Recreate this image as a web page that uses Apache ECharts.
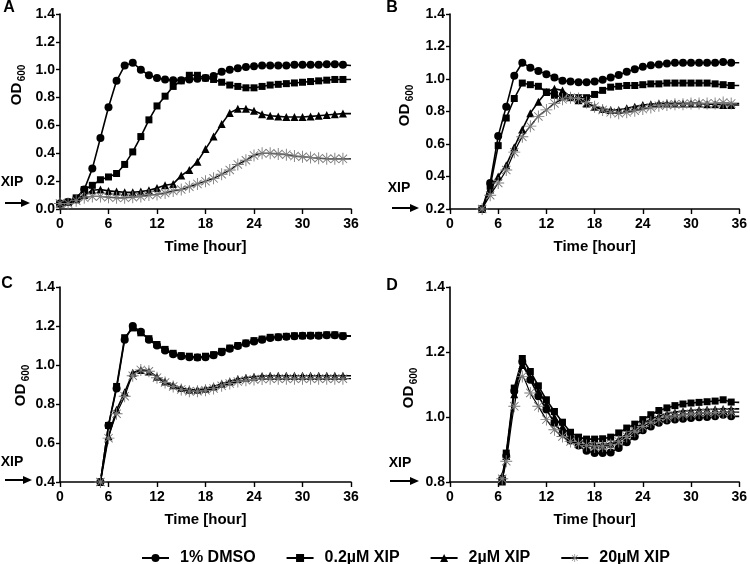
<!DOCTYPE html>
<html><head><meta charset="utf-8">
<script src="https://cdn.jsdelivr.net/npm/echarts/dist/echarts.min.js"></script>
<style>html,body{margin:0;padding:0;background:#fff}#c{width:750px;height:564px}</style>
</head><body><div id="c"></div>
<script>
// ---------- data ----------
const seriesNames = ['1% DMSO', '0.2µM XIP', '2µM XIP', '20µM XIP'];
const panelLetters = ['A', 'B', 'C', 'D'];
const xTicks = [0, 6, 12, 18, 24, 30, 36];
const yMins = [0.0, 0.2, 0.4, 0.8];
const yMax = 1.4;

const timeA = [0,1,2,3,4,5,6,7,8,9,10,11,12,13,14,15,16,17,18,19,20,21,22,23,24,25,26,27,28,29,30,31,32,33,34,35,36];
const A_DMSO = [0.04,0.05,0.07,0.14,0.29,0.51,0.73,0.92,1.03,1.05,1.0,0.96,0.94,0.93,0.925,0.925,0.93,0.935,0.94,0.955,0.985,1.0,1.01,1.02,1.025,1.03,1.03,1.03,1.03,1.035,1.035,1.035,1.035,1.04,1.04,1.035,1.03];
const A_02   = [0.04,0.05,0.08,0.14,0.17,0.21,0.23,0.255,0.32,0.41,0.52,0.64,0.74,0.81,0.88,0.92,0.96,0.96,0.94,0.93,0.91,0.89,0.88,0.87,0.87,0.88,0.89,0.895,0.9,0.905,0.91,0.915,0.92,0.925,0.93,0.93,0.93];
const A_2    = [0.04,0.05,0.07,0.10,0.135,0.14,0.13,0.125,0.12,0.12,0.125,0.135,0.15,0.17,0.18,0.24,0.28,0.34,0.43,0.52,0.61,0.69,0.72,0.72,0.705,0.68,0.67,0.665,0.66,0.66,0.66,0.665,0.67,0.675,0.68,0.685,0.685];
const A_20   = [0.04,0.04,0.06,0.08,0.09,0.09,0.085,0.08,0.08,0.085,0.09,0.10,0.105,0.115,0.13,0.14,0.16,0.18,0.20,0.22,0.25,0.28,0.32,0.35,0.385,0.40,0.40,0.395,0.39,0.38,0.375,0.37,0.365,0.36,0.36,0.36,0.36];

const timeB = [4,5,6,7,8,9,10,11,12,13,14,15,16,17,18,19,20,21,22,23,24,25,26,27,28,29,30,31,32,33,34,35,36];
const B_DMSO = [0.2,0.36,0.65,0.83,1.02,1.1,1.07,1.05,1.03,1.01,0.99,0.985,0.98,0.98,0.985,0.995,1.01,1.025,1.045,1.06,1.075,1.085,1.09,1.095,1.1,1.1,1.1,1.1,1.1,1.1,1.105,1.1,1.1];
const B_02   = [0.2,0.34,0.59,0.76,0.88,0.975,0.965,0.955,0.92,0.9,0.89,0.885,0.885,0.885,0.905,0.93,0.95,0.955,0.96,0.96,0.965,0.97,0.97,0.975,0.975,0.975,0.975,0.975,0.975,0.97,0.965,0.96,0.96];
const B_2    = [0.2,0.32,0.40,0.47,0.58,0.69,0.79,0.86,0.92,0.94,0.93,0.89,0.87,0.85,0.83,0.815,0.81,0.81,0.82,0.83,0.84,0.845,0.85,0.85,0.85,0.85,0.85,0.85,0.845,0.845,0.84,0.84,0.84];
const B_20   = [0.2,0.285,0.36,0.44,0.55,0.645,0.71,0.77,0.81,0.85,0.875,0.885,0.88,0.855,0.83,0.81,0.795,0.79,0.795,0.805,0.815,0.825,0.835,0.84,0.845,0.845,0.85,0.85,0.85,0.85,0.855,0.85,0.85];

const timeC = [5,6,7,8,9,10,11,12,13,14,15,16,17,18,19,20,21,22,23,24,25,26,27,28,29,30,31,32,33,34,35,36];
const C_DMSO = [0.4,0.69,0.88,1.13,1.2,1.17,1.13,1.1,1.075,1.055,1.045,1.04,1.038,1.04,1.05,1.065,1.083,1.097,1.11,1.12,1.13,1.138,1.142,1.145,1.148,1.15,1.15,1.15,1.152,1.152,1.148,1.148];
const C_02   = [0.4,0.69,0.89,1.14,1.19,1.165,1.135,1.105,1.08,1.06,1.048,1.045,1.04,1.045,1.053,1.07,1.087,1.1,1.113,1.125,1.133,1.142,1.144,1.147,1.15,1.15,1.152,1.152,1.155,1.155,1.15,1.15];
const C_2    = [0.4,0.634,0.77,0.86,0.96,0.975,0.967,0.94,0.916,0.896,0.882,0.873,0.873,0.878,0.89,0.904,0.916,0.928,0.935,0.94,0.943,0.945,0.945,0.945,0.945,0.945,0.945,0.945,0.945,0.945,0.945,0.945];
const C_20   = [0.4,0.625,0.75,0.84,0.945,0.975,0.968,0.935,0.91,0.89,0.875,0.866,0.865,0.87,0.88,0.893,0.905,0.915,0.922,0.926,0.928,0.93,0.93,0.93,0.93,0.93,0.93,0.93,0.93,0.93,0.93,0.93];

const timeD = [6.5,7,8,9,10,11,12,13,14,15,16,17,18,19,20,21,22,23,24,25,26,27,28,29,30,31,32,33,34,35,36];
const D_DMSO = [0.81,0.88,1.08,1.17,1.115,1.064,1.023,0.982,0.949,0.928,0.912,0.896,0.889,0.889,0.891,0.905,0.922,0.94,0.959,0.971,0.982,0.989,0.992,0.995,0.997,0.999,1.0,1.002,1.007,1.002,1.002];
const D_02   = [0.8,0.889,1.089,1.18,1.14,1.096,1.053,1.017,0.984,0.953,0.938,0.932,0.932,0.933,0.938,0.951,0.966,0.978,0.992,1.007,1.02,1.028,1.035,1.04,1.043,1.045,1.047,1.049,1.053,1.046,1.045];
const D_2    = [0.82,0.88,1.07,1.16,1.12,1.08,1.04,1.0,0.97,0.945,0.93,0.92,0.915,0.915,0.918,0.93,0.948,0.965,0.98,0.993,1.003,1.01,1.015,1.018,1.02,1.022,1.023,1.024,1.025,1.025,1.025];
const D_20   = [0.81,0.864,1.033,1.125,1.074,1.033,0.992,0.961,0.94,0.925,0.918,0.912,0.908,0.91,0.915,0.925,0.94,0.956,0.971,0.984,0.992,1.0,1.005,1.008,1.01,1.012,1.013,1.014,1.015,1.015,1.015];

const panelTimes = [timeA, timeB, timeC, timeD];
const panelValues = [
  [A_DMSO, A_02, A_2, A_20],
  [B_DMSO, B_02, B_2, B_20],
  [C_DMSO, C_02, C_2, C_20],
  [D_DMSO, D_02, D_2, D_20]
];

// ---------- layout / style ----------
const FONT = '"Liberation Sans", Arial, sans-serif';
const grids = [
  {left: 60,  top: 14,  width: 291, height: 195},
  {left: 450, top: 14,  width: 291, height: 195},
  {left: 60,  top: 287, width: 291, height: 195},
  {left: 450, top: 287, width: 291, height: 195}
];
// thin-armed asterisk built from filled bars
const ASTER = 'path://M0 5.55 L12 5.55 L12 6.45 L0 6.45 Z M5.55 0 L6.45 0 L6.45 12 L5.55 12 Z ' +
  'M1.5 2.15 L2.15 1.5 L10.5 9.85 L9.85 10.5 Z M9.85 1.5 L10.5 2.15 L2.15 10.5 L1.5 9.85 Z';
const symbolDefs = [
  {symbol: 'circle', size: 8, item: {color: '#000'}},
  {symbol: 'rect', size: 7, item: {color: '#000'}},
  {symbol: 'triangle', size: 8, item: {color: '#000'}},
  {symbol: ASTER, size: 12, item: {color: '#7a7a7a'}}
];

const xAxes = [], yAxes = [], series = [];
grids.forEach((g, i) => {
  xAxes.push({
    type: 'value', gridIndex: i, min: 0, max: 36, interval: 6,
    name: 'Time [hour]', nameLocation: 'middle', nameGap: 30,
    nameTextStyle: {fontFamily: FONT, fontWeight: 'bold', fontSize: 15, color: '#000'},
    axisLine: {show: true, onZero: false, lineStyle: {color: '#000', width: 1.6}},
    axisTick: {show: true, inside: false, length: 5, lineStyle: {color: '#000', width: 1.4}},
    axisLabel: {margin: 8, fontFamily: FONT, fontWeight: 'bold', fontSize: 14, color: '#000'},
    splitLine: {show: false}
  });
  yAxes.push({
    type: 'value', gridIndex: i, min: yMins[i], max: yMax, interval: 0.2,
    axisLine: {show: true, onZero: false, lineStyle: {color: '#000', width: 1.6}},
    axisTick: {show: true, inside: false, length: 4, lineStyle: {color: '#000', width: 1.4}},
    axisLabel: {margin: 5, fontFamily: FONT, fontWeight: 'bold', fontSize: 14, color: '#000',
      formatter: v => v.toFixed(1)},
    splitLine: {show: false}
  });
  const t = panelTimes[i];
  panelValues[i].forEach((vals, s) => {
    const sd = symbolDefs[s];
    const data = t.map((tt, k) => {
      const d = {value: [tt, vals[k]]};
      if (k === t.length - 1) d.symbol = 'none';
      return d;
    });
    series.push({
      type: 'line', name: seriesNames[s], xAxisIndex: i, yAxisIndex: i,
      data: data, symbol: sd.symbol, symbolSize: sd.size, showSymbol: true,
      smooth: s === 3 ? 0.35 : false,
      lineStyle: {color: '#000', width: s === 3 ? 1.2 : 1.6},
      itemStyle: sd.item, z: 2 + s,
      emphasis: {disabled: true}, silent: true
    });
  });
});

// decorations: panel letters, OD600 labels, XIP arrows
const graphics = [];
const letterPos = [[9, 8], [392, 8], [7, 284], [392, 286]];
letterPos.forEach((p, i) => graphics.push({
  type: 'text', x: p[0], y: p[1],
  style: {text: panelLetters[i], fill: '#000', font: 'bold 16px ' + FONT,
    align: 'center', verticalAlign: 'middle', textAlign: 'center', textVerticalAlign: 'middle'}
}));
const odPos = [[17, 94, 22, 73], [405, 115, 410, 93], [21, 395, 26, 373], [409, 397, 414, 376]];
odPos.forEach(p => {
  graphics.push({type: 'text', x: p[0], y: p[1], rotation: Math.PI / 2,
    style: {text: 'OD', fill: '#000', font: 'bold 15px ' + FONT,
      align: 'center', verticalAlign: 'middle', textAlign: 'center', textVerticalAlign: 'middle'}});
  graphics.push({type: 'text', x: p[2], y: p[3], rotation: Math.PI / 2,
    style: {text: '600', fill: '#000', font: 'bold 10px ' + FONT,
      align: 'center', verticalAlign: 'middle', textAlign: 'center', textVerticalAlign: 'middle'}});
});
const xipPos = [[12, 182, 5, 30, 203], [399, 188, 392, 419, 208], [12, 462, 5, 32, 480], [400, 463, 390, 419, 481]];
xipPos.forEach(p => {
  graphics.push({type: 'text', x: p[0], y: p[1],
    style: {text: 'XIP', fill: '#000', font: 'bold 14px ' + FONT,
      align: 'center', verticalAlign: 'middle', textAlign: 'center', textVerticalAlign: 'middle'}});
  graphics.push({type: 'line', shape: {x1: p[2], y1: p[4], x2: p[3] - 6, y2: p[4]},
    style: {stroke: '#000', lineWidth: 2}});
  graphics.push({type: 'polygon', shape: {points: [[p[3] - 9, p[4] - 4], [p[3], p[4]], [p[3] - 9, p[4] + 4]]},
    style: {fill: '#000'}});
});

const chart = echarts.init(document.getElementById('c'), null, {renderer: 'canvas'});
chart.setOption({
  animation: false,
  backgroundColor: '#fff',
  grid: grids,
  xAxis: xAxes,
  yAxis: yAxes,
  series: series,
  legend: {
    data: seriesNames, left: 136, top: 545,
    itemWidth: 27, itemHeight: 10, itemGap: 30,
    textStyle: {fontFamily: FONT, fontWeight: 'bold', fontSize: 16, color: '#000', padding: [0, 0, 0, 6]},
    selectedMode: false
  },
  graphic: graphics
});
</script>
</body></html>
